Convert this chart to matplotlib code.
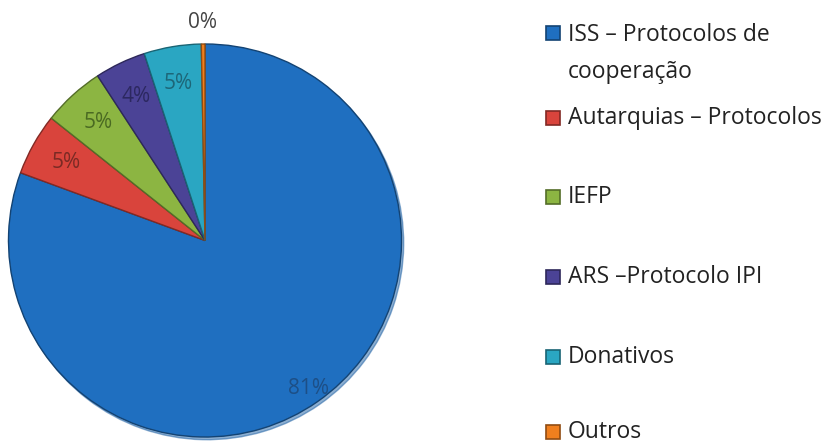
import numpy as np
import matplotlib.pyplot as plt
import matplotlib.colors as mcolors
from matplotlib.patches import Rectangle

# dados
categorias = ["ISS – Protocolos de\ncooperação", "Autarquias – Protocolos", "IEFP",
              "ARS –Protocolo IPI", "Donativos", "Outros"]
valores = [80.6, 5.1, 5.1, 4.2, 4.7, 0.3]
cores = ["#1f6fc0", "#d9443c", "#8cb542", "#4b4396", "#2aa6c2", "#f07f1e"]
cores_texto = ["#1d4f86", "#7a2a24", "#4a6a22", "#2c2860", "#1d6678", "#444444"]

plt.rcParams['font.family'] = ['Open Sans', 'DejaVu Sans']

fig = plt.figure(figsize=(8.26, 4.45), dpi=100)
W, H = 826, 445
cx, cy, r = 205, 240.5, 196.5
ax = fig.add_axes([(cx - r) / W, (H - cy - r) / H, 2 * r / W, 2 * r / H])

bordas = [mcolors.to_hex([c * 0.6 for c in mcolors.to_rgb(k)]) for k in cores]
wedges, textos, pcts = ax.pie(
    valores, colors=cores, startangle=90, counterclock=False,
    autopct='%1.0f%%', pctdistance=0.81,
    wedgeprops=dict(linewidth=1.0),
    shadow=dict(ox=0.008, oy=-0.01, shade=0.15),
    textprops=dict(fontsize=15)
)
for w, b in zip(wedges, bordas):
    w.set_edgecolor(b)
for t, c in zip(pcts, cores_texto):
    t.set_color(c)

# 81% mais perto da borda, 0% fora do círculo
for i, dist in [(0, 0.92), (5, 1.11)]:
    w = wedges[i]
    ang = np.deg2rad((w.theta1 + w.theta2) / 2)
    pcts[i].set_position((dist * np.cos(ang), dist * np.sin(ang)))

ax.set_xlim(-1, 1)
ax.set_ylim(-1, 1)
ax.set_aspect('equal')

# legenda
ys = [33, 118, 197, 277, 357, 432]
for cat, cor, borda, y in zip(categorias, cores, bordas, ys):
    fig.add_artist(Rectangle((546 / W, (H - y - 7) / H), 14 / W, 14 / H,
                             facecolor=cor, edgecolor=borda, linewidth=1.2,
                             transform=fig.transFigure))
    if '\n' in cat:
        fig.text(568 / W, (H - y + 10) / H, cat, fontsize=16.5, color="#222222",
                 va='top', linespacing=1.7)
    else:
        fig.text(568 / W, (H - y) / H, cat, fontsize=16.5, color="#222222", va='center')

fig.savefig('out.png', dpi=100)
